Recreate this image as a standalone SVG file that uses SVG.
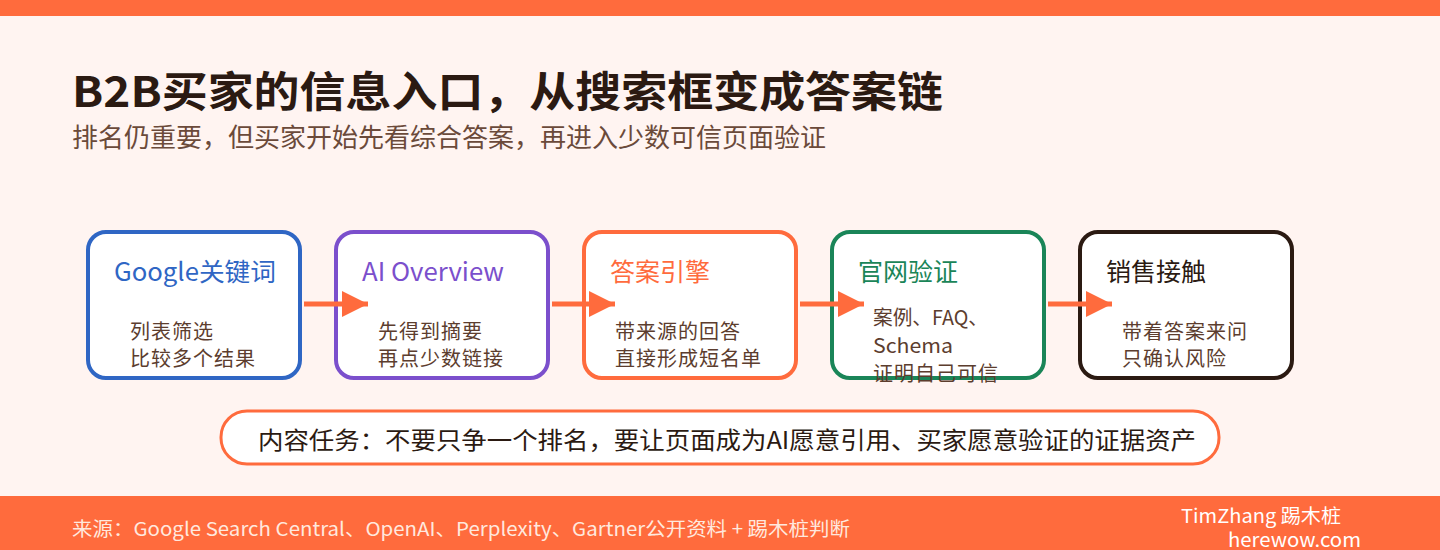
<svg xmlns="http://www.w3.org/2000/svg" width="1440" height="550" viewBox="0 0 1440 550">
<defs>
<style>
.cjk{font-family:"Noto Sans CJK SC","Noto Sans",sans-serif;}
.box{fill:#FFFFFF;stroke-width:4;}
.ttl{font-size:25px;}
.body{font-size:20px;letter-spacing:1px;fill:#5C3D2E;}
.body.tight{letter-spacing:0;}
.conn{stroke:#FF6B3D;stroke-width:5;fill:none;}
</style>
<marker id="ah" viewBox="0 0 26 26" refX="26" refY="13" markerWidth="26" markerHeight="26" markerUnits="userSpaceOnUse" orient="auto">
<path d="M0,0 L26,13 L0,26 Z" fill="#FF6B3D"/>
</marker>
</defs>
<rect x="0" y="0" width="1440" height="550" fill="#FFF4F1"/>
<rect x="0" y="0" width="1440" height="16" fill="#FF6B3D"/>
<text class="cjk" x="72" y="107" font-size="42" font-weight="700" fill="#2B1A12" textLength="871" lengthAdjust="spacingAndGlyphs">B2B买家的信息入口，从搜索框变成答案链</text>
<text class="cjk" x="72" y="147" font-size="26" fill="#6B4A3A" textLength="754" lengthAdjust="spacingAndGlyphs">排名仍重要，但买家开始先看综合答案，再进入少数可信页面验证</text>

<g id="node-google">
<rect class="box" x="88" y="232" width="212" height="146" rx="18" stroke="#2F66C4"/>
<text class="cjk ttl" x="114" y="281" fill="#2F66C4" textLength="162" lengthAdjust="spacingAndGlyphs">Google关键词</text>
<text class="cjk body" x="130" y="339">列表筛选</text>
<text class="cjk body" x="130" y="366">比较多个结果</text>
</g>
<g id="node-ai-overview">
<rect class="box" x="336" y="232" width="212" height="146" rx="18" stroke="#7B4FCC"/>
<text class="cjk ttl" x="362" y="281" fill="#7B4FCC" textLength="142" lengthAdjust="spacingAndGlyphs">AI Overview</text>
<text class="cjk body" x="378" y="339">先得到摘要</text>
<text class="cjk body" x="378" y="366">再点少数链接</text>
</g>
<g id="node-answer-engine">
<rect class="box" x="584" y="232" width="212" height="146" rx="18" stroke="#FF6B3D"/>
<text class="cjk ttl" x="610" y="281" fill="#FF6B3D">答案引擎</text>
<text class="cjk body" x="615" y="339">带来源的回答</text>
<text class="cjk body" x="615" y="366">直接形成短名单</text>
</g>
<g id="node-site-verify">
<rect class="box" x="832" y="232" width="212" height="146" rx="18" stroke="#1A8558"/>
<text class="cjk ttl" x="858" y="281" fill="#1A8558">官网验证</text>
<text class="cjk body tight" x="873" y="325" textLength="115" lengthAdjust="spacingAndGlyphs">案例、FAQ、</text>
<text class="cjk body tight" x="873" y="353" textLength="80" lengthAdjust="spacingAndGlyphs">Schema</text>
<text class="cjk body" x="873" y="381">证明自己可信</text>
</g>
<g id="node-sales">
<rect class="box" x="1080" y="232" width="212" height="146" rx="18" stroke="#2B1A12"/>
<text class="cjk ttl" x="1106" y="281" fill="#2B1A12">销售接触</text>
<text class="cjk body" x="1122" y="339">带着答案来问</text>
<text class="cjk body" x="1122" y="366">只确认风险</text>
</g>

<g id="connectors">
<line class="conn" x1="304" y1="304" x2="368" y2="304" marker-end="url(#ah)"/>
<line class="conn" x1="552" y1="304" x2="615" y2="304" marker-end="url(#ah)"/>
<line class="conn" x1="800" y1="304" x2="864" y2="304" marker-end="url(#ah)"/>
<line class="conn" x1="1048" y1="304" x2="1112" y2="304" marker-end="url(#ah)"/>
</g>

<g id="callout">
<rect x="221" y="411" width="998" height="53" rx="26" fill="#FFFFFF" stroke="#FF6B3D" stroke-width="3"/>
<text class="cjk" x="258" y="449" font-size="24" fill="#2B1A12" textLength="938" lengthAdjust="spacingAndGlyphs">内容任务：不要只争一个排名，要让页面成为AI愿意引用、买家愿意验证的证据资产</text>
</g>

<rect x="0" y="496" width="1440" height="54" fill="#FF6B3D"/>
<text class="cjk" x="72" y="536" font-size="19" fill="#FFE8DE" textLength="778" lengthAdjust="spacingAndGlyphs">来源：Google Search Central、OpenAI、Perplexity、Gartner公开资料 + 踢木桩判断</text>
<text class="cjk" x="1181" y="523" font-size="19" fill="#FFFFFF" textLength="160" lengthAdjust="spacingAndGlyphs">TimZhang 踢木桩</text>
<text class="cjk" x="1228" y="547" font-size="19" fill="#FFFFFF" textLength="133" lengthAdjust="spacingAndGlyphs">herewow.com</text>
</svg>
